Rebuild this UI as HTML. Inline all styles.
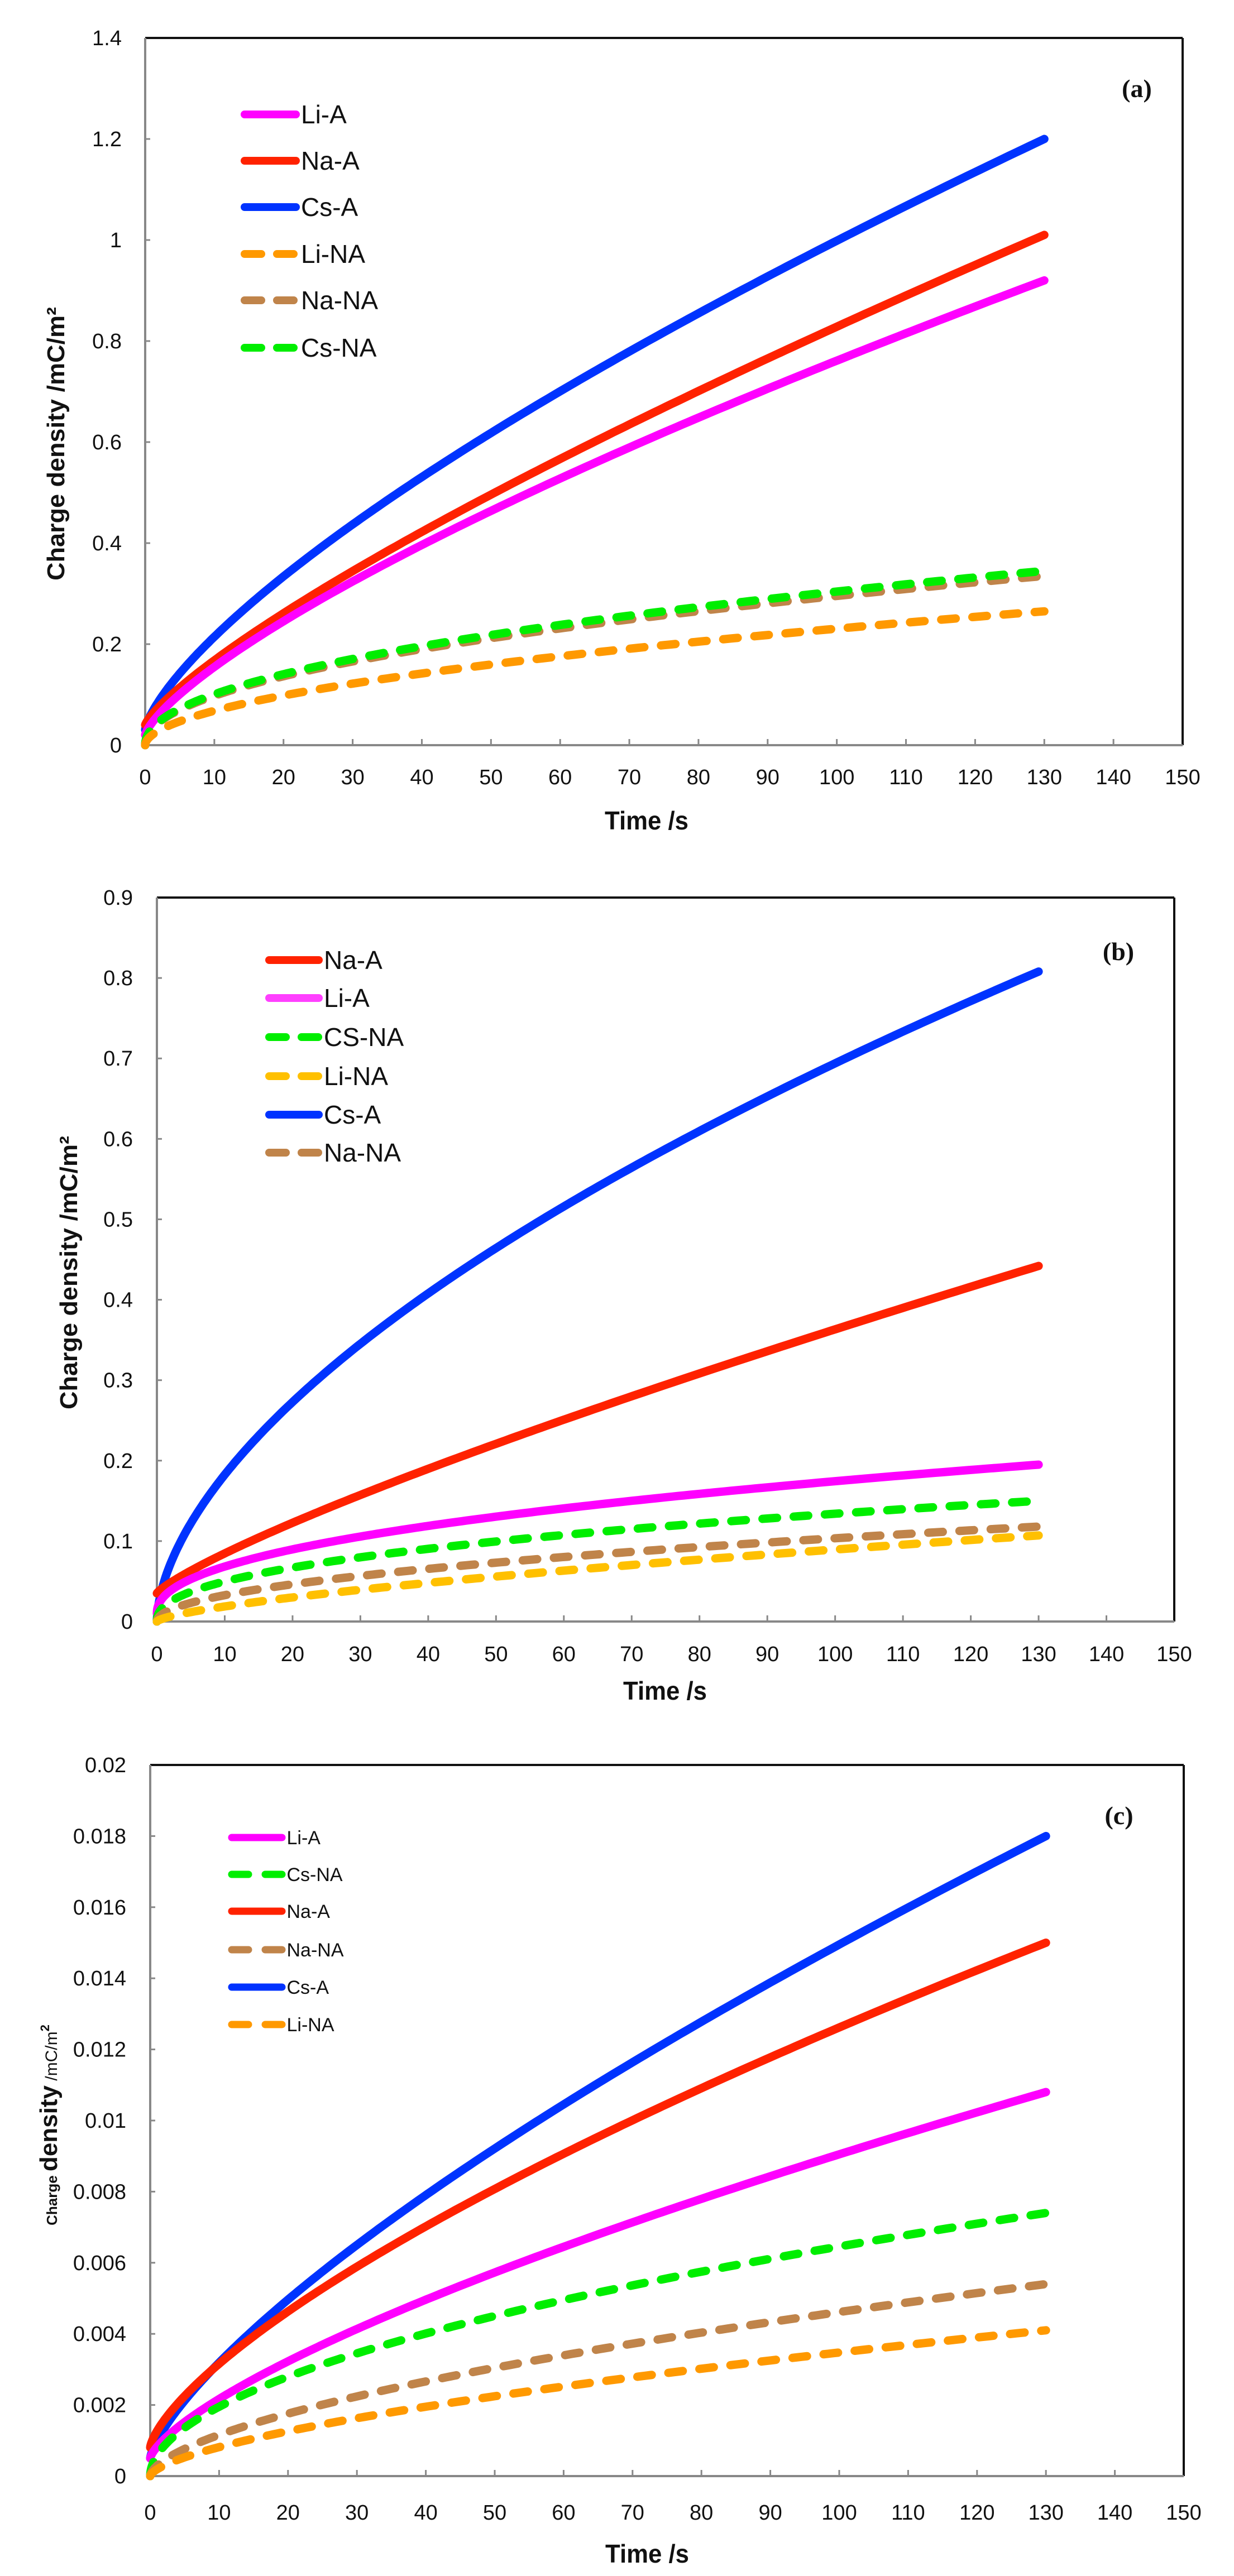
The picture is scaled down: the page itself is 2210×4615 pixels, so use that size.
<!DOCTYPE html>
<html><head><meta charset="utf-8">
<style>
html,body{margin:0;padding:0;background:#fff;}
svg{display:block;}
text{font-family:"Liberation Sans Narrow","Liberation Sans",sans-serif;fill:#111;}
.tk{font-size:38px;}
.lg{font-size:46px;}
.lgc{font-size:34px;}
.ax{font-family:"Liberation Sans",sans-serif;font-weight:bold;}
.pl{font-family:"Liberation Serif",serif;font-weight:bold;font-size:46px;}
</style></head>
<body>
<svg id="s" width="2210" height="4615" viewBox="0 0 2210 4615" xmlns="http://www.w3.org/2000/svg">
<rect width="2210" height="4615" fill="#fff"/>
<g id="g"></g>
<!-- axis titles -->
<text class="ax" x="1158" y="1486" font-size="46" text-anchor="middle" textLength="150" lengthAdjust="spacingAndGlyphs">Time /s</text>
<text class="ax" x="1191" y="3045" font-size="46" text-anchor="middle" textLength="150" lengthAdjust="spacingAndGlyphs">Time /s</text>
<text class="ax" x="1159" y="4591" font-size="46" text-anchor="middle" textLength="150" lengthAdjust="spacingAndGlyphs">Time /s</text>
<text class="ax" transform="translate(115,795) rotate(-90)" font-size="44" text-anchor="middle" textLength="490" lengthAdjust="spacingAndGlyphs">Charge density /mC/m²</text>
<text class="ax" transform="translate(138,2280) rotate(-90)" font-size="44" text-anchor="middle" textLength="490" lengthAdjust="spacingAndGlyphs">Charge density /mC/m²</text>
<text class="ax" transform="translate(102,3807) rotate(-90)" text-anchor="middle"><tspan font-size="26">Charge </tspan><tspan font-size="44">density</tspan><tspan font-size="30" font-weight="normal"> /mC/m</tspan><tspan font-size="22" dy="-14">2</tspan></text>
<text class="pl" x="2036" y="174" text-anchor="middle">(a)</text>
<text class="pl" x="2003" y="1720" text-anchor="middle">(b)</text>
<text class="pl" x="2004" y="3268" text-anchor="middle">(c)</text>
</svg>
<script>
var NS="http://www.w3.org/2000/svg",G=document.getElementById("g");
function el(n,a,t){var e=document.createElementNS(NS,n);for(var k in a)e.setAttribute(k,a[k]);if(t!==undefined)e.textContent=t;G.appendChild(e);return e;}
var C={m:"#ff00ff",r:"#ff2200",b:"#0033ff",o:"#ff9900",br:"#c0844a",g:"#00ee00",y:"#ffc000",mb:"#ff40ff"};
function panel(P){
 var L=P.l,R=P.r,T=P.t,B=P.b,ymax=P.ymax;
 function X(t){return L+(R-L)*t/150;} function Y(v){return B-(B-T)*v/ymax;}
 // y ticks + labels
 for(var i=0;i<=P.ny;i++){var v=ymax*i/P.ny,y=Y(v);
  if(i>0&&i<P.ny) el("line",{x1:L,x2:L+9,y1:y,y2:y,stroke:"#888","stroke-width":3});
  el("text",{"class":"tk",x:P.lx,y:y+13,"text-anchor":"end"},P.fmt(v));}
 for(var j=0;j<=15;j++){var x=X(j*10);
  if(j>0&&j<15) el("line",{x1:x,x2:x,y1:B,y2:B-11,stroke:"#888","stroke-width":3});
  el("text",{"class":"tk",x:x,y:P.xl,"text-anchor":"middle"},String(j*10));}
 el("line",{x1:L,x2:R,y1:T,y2:T,stroke:"#111","stroke-width":4});
 el("line",{x1:R,x2:R,y1:T,y2:B,stroke:"#111","stroke-width":4});
 el("line",{x1:L,x2:L,y1:T,y2:B,stroke:"#888","stroke-width":4});
 el("line",{x1:L,x2:R,y1:B,y2:B,stroke:"#888","stroke-width":4});
 P.s.forEach(function(s){
  var d="";for(var k=0;k<=200;k++){var t=130*Math.pow(k/200,1.6);var v=s[1]+(s[2]-s[1])*Math.pow(t/130,s[3]);d+=(k?"L":"M")+X(t).toFixed(1)+","+Y(v).toFixed(1);}
  var a={d:d,fill:"none",stroke:C[s[0]],"stroke-width":15,"stroke-linecap":"round","stroke-linejoin":"round"};
  if(s[4]) a["stroke-dasharray"]="26 30";
  el("path",a);});
 P.lg.forEach(function(q,i){var y=P.ly[i];
  var a={x1:P.lx1,x2:P.lx2,y1:y,y2:y,stroke:C[q[1]],"stroke-width":P.lw,"stroke-linecap":"round"};
  if(q[2]) a["stroke-dasharray"]=P.ld;
  el("line",a);
  el("text",{"class":P.lc,x:P.lx2+P.lw/2+2,y:y+P.lo},q[0]);});
}
function f1(v){return (Math.round(v*10)/10).toString();}
function f3(v){var r=Math.round(v*1000)/1000;return r===0?"0":r.toString();}
panel({l:260,r:2118,t:68,b:1335,ymax:1.4,ny:7,lx:218,xl:1405,fmt:f1,
 s:[["b",0.03,1.2,0.72],["r",0.04,1.01,0.79],["m",0.02,0.92,0.74],["br",0,0.335,0.48,1],["g",0,0.345,0.48,1],["o",0,0.265,0.53,1]],
 lg:[["Li-A","m"],["Na-A","r"],["Cs-A","b"],["Li-NA","o",1],["Na-NA","br",1],["Cs-NA","g",1]],
 ly:[205,288,371,455,538,623],lx1:438,lx2:530,lw:14,ld:"30 28",lc:"lg",lo:16});
panel({l:281,r:2103,t:1608,b:2905,ymax:0.9,ny:9,lx:238,xl:2976,fmt:f1,
 s:[["b",0,0.808,0.58],["r",0.035,0.442,0.82],["m",0.01,0.195,0.45],["g",0,0.15,0.43,1],["br",0,0.118,0.5,1],["y",0,0.107,0.68,1]],
 lg:[["Na-A","r"],["Li-A","mb"],["CS-NA","g",1],["Li-NA","y",1],["Cs-A","b"],["Na-NA","br",1]],
 ly:[1720,1788,1858,1928,1997,2065],lx1:482,lx2:571,lw:14,ld:"30 28",lc:"lg",lo:16});
panel({l:269,r:2120,t:3162,b:4436,ymax:0.02,ny:10,lx:226,xl:4514,fmt:f3,
 s:[["b",0.0005,0.018,0.73],["r",0.0008,0.015,0.70],["m",0.0005,0.0108,0.71],["g",0,0.0074,0.52,1],["br",0,0.0054,0.6,1],["o",0,0.0041,0.63,1]],
 lg:[["Li-A","m"],["Cs-NA","g",1],["Na-A","r"],["Na-NA","br",1],["Cs-A","b"],["Li-NA","o",1]],
 ly:[3292,3358,3424,3493,3560,3627],lx1:415,lx2:505,lw:13,ld:"30 30",lc:"lgc",lo:12});
</script>
</body></html>
